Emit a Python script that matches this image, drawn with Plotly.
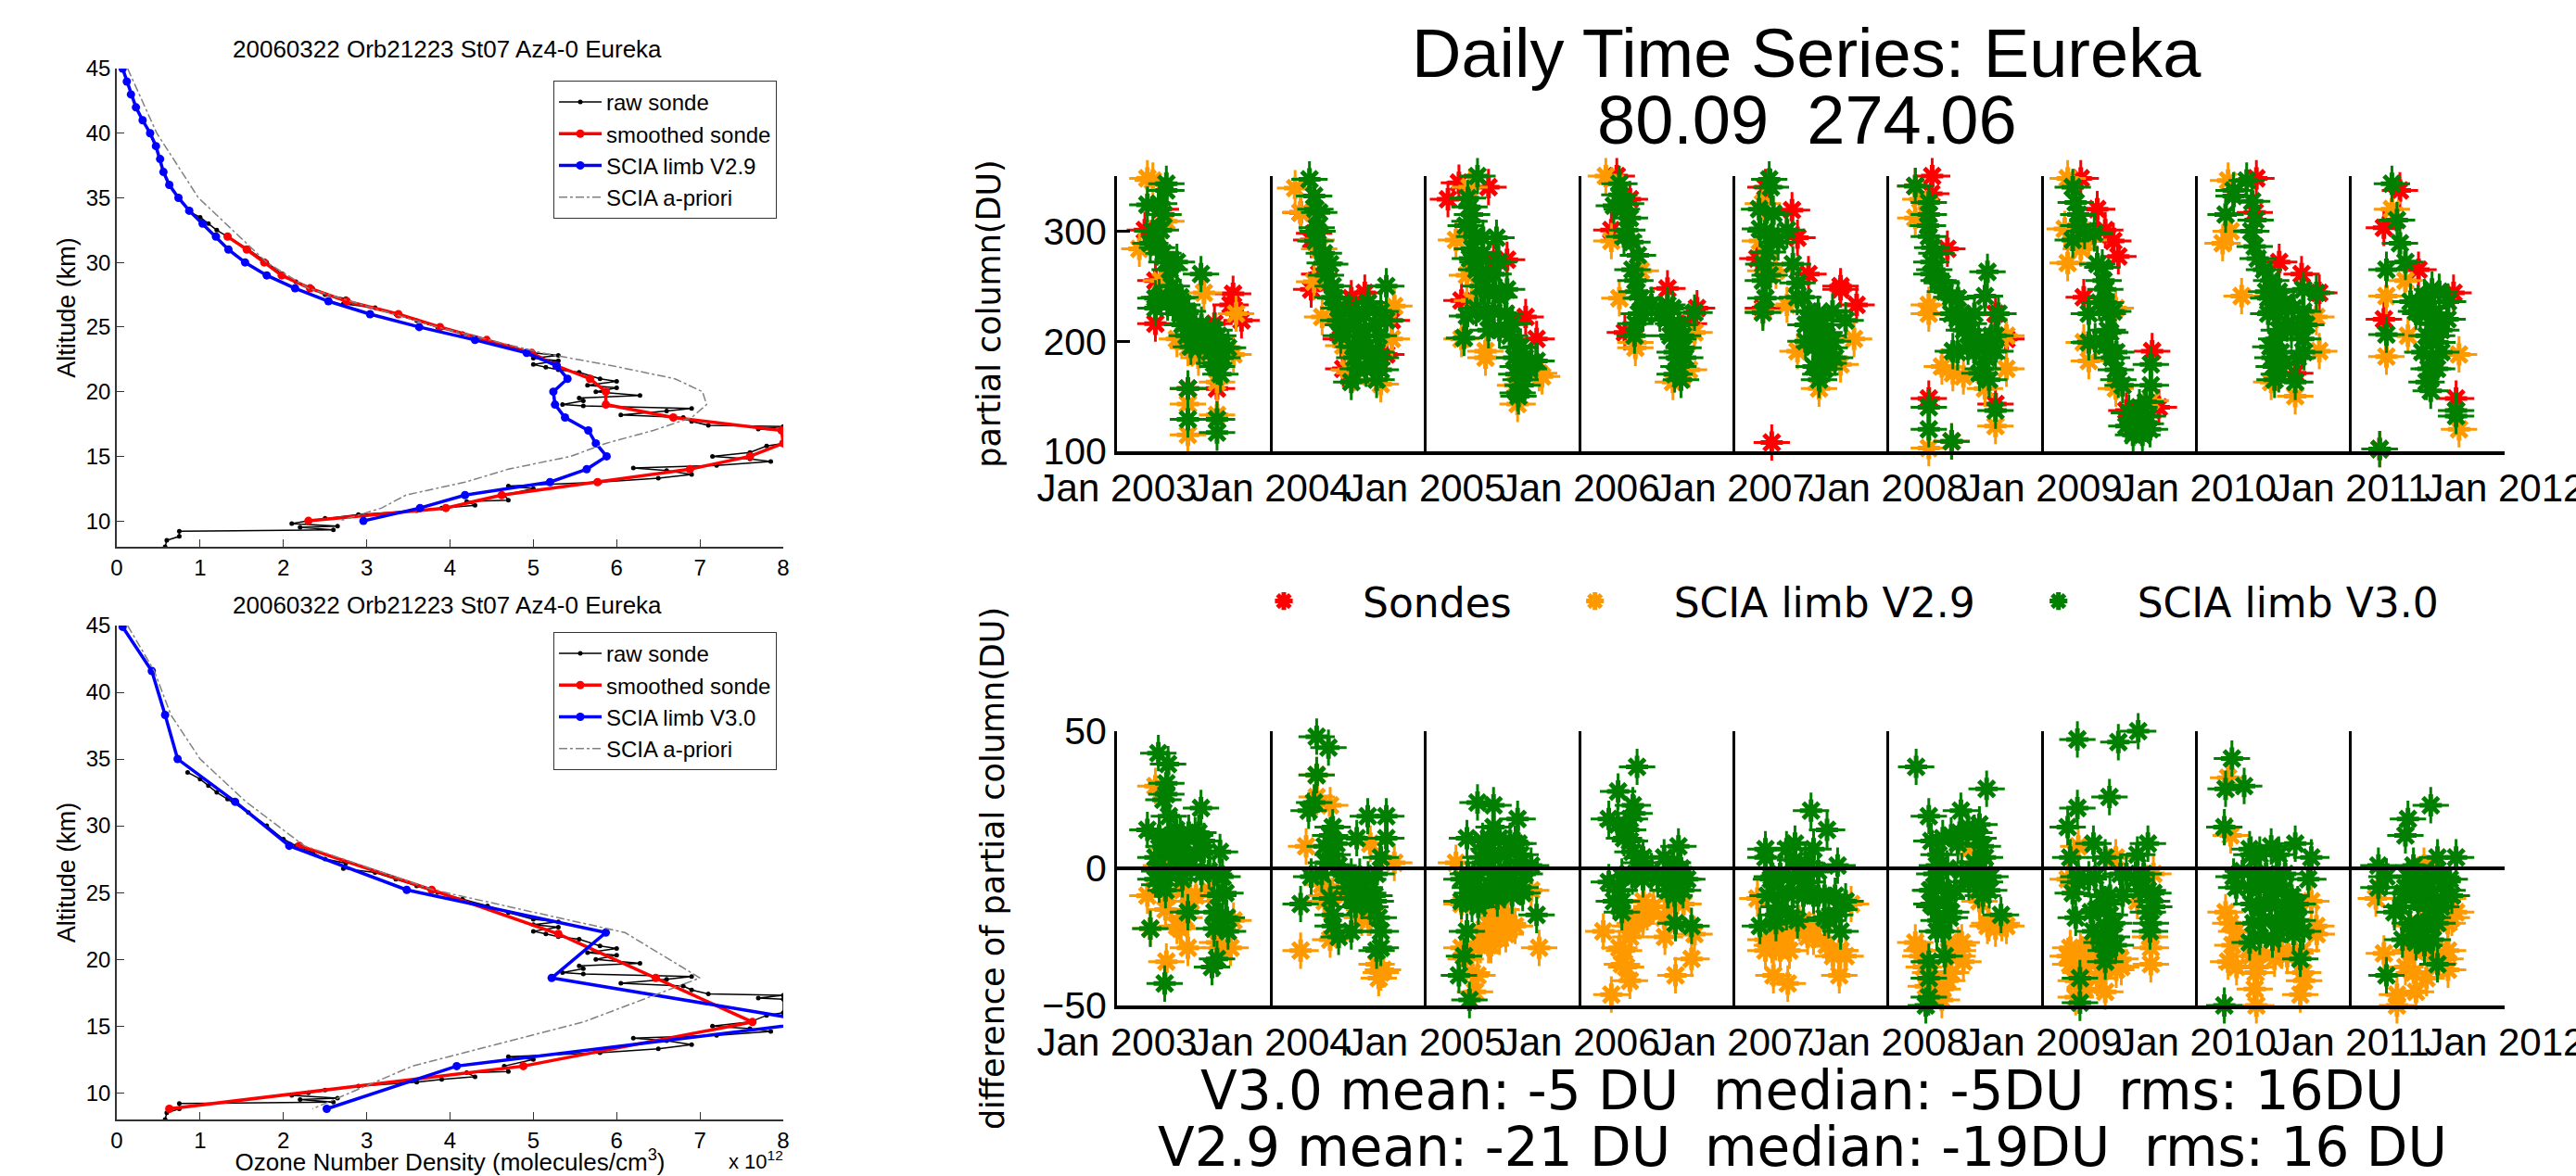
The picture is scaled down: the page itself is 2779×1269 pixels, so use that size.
import pandas as pd
import plotly.graph_objects as go

W, H = 2779, 1269

# ---------- Ozone profiles ----------
RAW_ALT = [34,33.5,33,32.5,32,31,30,29,28.5,28,27.5,27.2,26.8,26.5,26,25.5,25,24.5,24,23.5,23,22.8,22.6,22.4,22.1,21.9,21.7,21.5,21,20.8,20.5,20.3,20,19.7,19.5,19.3,19,18.9,18.7,18.5,18.2,18,17.7,17.4,17.3,17.1,17,16,15.8,15.3,15,14.8,14.6,14.3,14.1,13.9,13.6,13.3,13,12.7,12.5,12,11.6,11.5,11.2,11,10.8,10.5,10.2,10,9.8,9.6,9.5,9.3,9.2,8.8,8.5,8]
RAW_O3 = [.85,1.0,1.1,1.2,1.33,1.58,1.8,2.0,2.15,2.35,2.5,2.75,2.72,3.1,3.35,3.6,3.85,4.15,4.45,4.7,5.0,5.3,5.0,5.3,5.0,5.15,5.3,5.55,5.8,6.0,5.65,6.0,5.75,6.28,5.55,5.6,5.35,5.6,6.9,6.6,6.05,6.8,6.9,7.1,8,7.7,8,8,7.8,7.6,7.15,7.6,7.85,7.2,6.2,6.6,6.9,6.5,5.8,4.7,5,4.65,4.7,4.2,4.3,3.9,3.6,2.9,2.5,2.3,2.1,2.65,2.2,2.6,.75,.75,.6,.58]

SM29_ALT = [32,31,30,29,28,27,26,25,24,23,22,21,20,19,18,17,16,15,14,13,12,11,10]
SM29_O3 = [1.33,1.56,1.77,1.98,2.32,2.76,3.38,3.88,4.44,4.98,5.28,5.68,5.87,5.87,6.68,7.98,8.0,7.6,6.88,5.77,4.62,3.95,2.3]

V29_ALT = [45,44,43,42,41,40,39,38,37,36,35,34,33,32,31,30,29,28,27,26,25,24,23,22,21,20,19,18,17,16,15,14,13,12,11,10]
V29_O3 = [.07,.12,.17,.23,.31,.40,.47,.52,.56,.63,.74,.87,1.03,1.19,1.34,1.54,1.80,2.14,2.54,3.04,3.63,4.3,4.92,5.28,5.41,5.24,5.26,5.38,5.66,5.75,5.88,5.64,5.2,4.18,3.64,2.96]

AP29_ALT = [45,40,35,30,29,28,27,25,23,22,21,20,19,18,17,16,15,14,13,12,11,10]
AP29_O3 = [.13,.48,.98,1.8,2.05,2.3,2.8,3.85,5.1,5.95,6.7,7.03,7.08,6.9,6.44,5.87,5.45,4.7,4.18,3.47,3.18,2.67]

SM30_ALT = [28.5,25.2,21.9,18.6,15.3,12,8.8]
SM30_O3 = [2.19,3.78,5.3,6.47,7.63,4.88,.63]

V30_ALT = [44.9,41.6,38.3,35,31.8,28.5,25.2,22,18.6,15.3,12,8.8]
V30_O3 = [.07,.42,.58,.73,1.42,2.07,3.48,5.87,5.22,8.4,4.08,2.52]

AP30_ALT = [45,41.6,38.3,35,31.8,28.5,25.2,22,18.6,15.3,12,8.8]
AP30_O3 = [.13,.45,.65,1.0,1.55,2.25,3.8,6.1,7.0,5.6,3.55,2.35]

# ---------- Daily time series: (day of year, value) ----------
YEARS = [2003,2004,2005,2006,2007,2008,2009,2010,2011]

TOP_RED = {
2003:[(72,351),(66,301),(91,216),(275,243),(269,233),(168,157),(237,157),(231,216),(104,320),(91,255),(295,219)],
2004:[(70,317),(102,298),(114,261),(95,247),(190,239),(222,244),(286,219),(273,188),(165,202),(171,175),(95,292)],
2005:[(79,344),(149,340),(85,237),(263,202),(193,274),(237,222),(53,329),(161,272)],
2006:[(88,350),(75,301),(208,248),(278,230),(107,208),(119,329),(259,216)],
2007:[(253,250),(253,247),(138,319),(151,294),(56,275),(69,230),(291,233),(90,108),(177,261),(75,340)],
2008:[(105,350),(141,284),(97,148),(151,109),(255,143),(281,202),(255,225),(103,334),(65,341)],
2009:[(91,348),(130,320),(149,301),(168,291),(98,240),(260,191),(199,137),(276,140),(180,277)],
2010:[(142,348),(196,272),(249,261),(291,244),(234,171),(138,317)],
2011:[(117,337),(79,303),(79,220),(161,265),(250,148),(69,102),(244,244)],
}
TOP_ORANGE = {
2003:[(72,348),(110,315),(117,309),(53,284),(104,255),(142,202),(168,194),(206,244),(282,225),(193,185),(237,163),(168,143),(168,115),(237,133),(276,188),(85,346)],
2004:[(57,339),(70,317),(108,292),(114,284),(102,254),(121,222),(171,196),(184,174),(260,161),(292,232),(286,202),(197,171)],
2005:[(104,340),(72,292),(98,260),(85,202),(142,191),(142,185),(218,143),(276,168),(110,237),(212,160),(269,171)],
2006:[(62,350),(75,291),(132,199),(132,194),(221,163),(272,208),(259,174),(145,264),(94,239)],
2007:[(69,325),(62,291),(75,264),(69,227),(151,191),(253,179),(202,157),(285,202),(126,233),(100,264)],
2008:[(65,312),(97,233),(97,225),(154,171),(230,157),(255,123),(281,175),(281,205),(97,103),(179,168),(128,177),(77,329)],
2009:[(60,348),(53,302),(60,271),(110,182),(98,199),(91,284),(174,157),(257,146),(218,99),(257,99),(110,292),(174,230)],
2010:[(75,346),(62,289),(81,300),(107,241),(234,150),(177,163),(291,191),(284,222)],
2011:[(85,241),(85,186),(98,320),(257,120),(136,205),(257,188),(130,255)],
}
TOP_GREEN = {
2003:[(117,343),(72,324),(117,337),(104,301),(79,289),(117,272),(142,272),(199,261),(91,239),(91,230),(155,233),(168,216),(180,205),(231,210),(244,194),(263,194),(237,177),(168,157),(168,129),(237,129),(237,117),(142,239),(168,227),(193,202),(231,202),(150,225),(200,215),
      (100,325),(110,315),(85,300),(95,285),(110,280),(125,265),(100,240),(120,235),(135,230),(150,240),(155,215),(165,205),(175,195),(185,215),(195,195),(215,205),(220,190),(240,205),(250,185),(230,180),(245,170),(130,250)],
2004:[(91,347),(102,332),(114,317),(108,303),(105,291),(127,271),(140,270),(146,250),(152,239),(184,227),(222,225),(273,250),(260,227),(197,213),(222,205),(273,219),(197,185),(260,185),(260,174),(190,163),(222,194),(159,219),
      (105,320),(110,300),(125,280),(130,260),(145,240),(160,230),(170,215),(185,215),(200,225),(210,210),(230,235),(245,215),(255,205),(210,195),(225,190),(240,180),(205,175),(195,195),(225,175),(250,190),(165,205),(250,165)],
2005:[(123,350),(104,322),(104,309),(168,294),(110,284),(123,272),(161,261),(193,247),(149,244),(98,223),(161,227),(206,216),(218,194),(91,203),(149,210),(263,182),(218,177),(218,153),(225,165),(174,272),(136,294),(250,182),
      (100,330),(110,315),(95,305),(115,295),(105,275),(120,265),(135,280),(130,250),(145,260),(165,245),(175,240),(120,230),(140,225),(175,210),(190,225),(200,205),(210,185),(225,195),(215,170),(230,160),(220,150),(245,175),(235,185)],
2006:[(94,343),(81,323),(119,312),(113,301),(138,278),(132,255),(145,239),(132,216),(221,216),(272,226),(208,233),(234,202),(234,177),(246,194),(170,233),(94,333),
      (100,320),(110,325),(105,295),(125,290),(125,265),(135,245),(140,225),(150,225),(130,205),(190,225),(205,220),(220,230),(215,205),(225,190),(230,185),(245,205),(250,185),(225,170),(240,165),(235,215)],
2007:[(84,347),(88,340),(94,316),(62,302),(126,301),(81,281),(69,255),(75,239),(69,226),(151,253),(177,227),(234,227),(265,219),(215,208),(227,194),(189,177),(202,165),
      (60,320),(75,300),(90,295),(105,290),(70,270),(85,260),(140,270),(150,240),(165,240),(170,215),(185,215),(200,225),(210,215),(195,200),(220,205),(235,200),(240,185),(210,190),(225,180),(190,195),(170,200),(205,170),(215,175)],
2008:[(65,341),(97,326),(97,315),(97,295),(103,272),(128,253),(166,239),(236,263),(230,241),(192,216),(262,225),(255,205),(154,191),(255,191),(217,171),(97,140),(97,120),(151,109),(255,137),(103,261),
      (95,305),(105,285),(110,265),(115,280),(120,255),(135,245),(150,240),(150,225),(165,220),(175,225),(180,210),(195,210),(205,225),(215,200),(230,195),(205,190),(190,195),(225,175),(235,185),(245,205),(165,190),(240,165)],
2009:[(72,340),(79,326),(85,315),(123,298),(72,292),(142,267),(149,247),(110,225),(168,227),(161,208),(110,199),(174,174),(257,179),(257,160),(199,123),(250,132),(237,115),(149,196),
      (85,305),(100,300),(130,270),(145,255),(135,235),(155,225),(150,235),(155,210),(125,200),(175,190),(180,165),(165,185),(190,160),(205,135),(225,125),(230,140),(245,145),(255,120),(245,125),(215,115)],
2010:[(119,346),(88,332),(132,327),(69,315),(138,286),(177,255),(253,247),(189,227),(253,227),(189,202),(253,202),(183,177),(234,163),(215,216),(170,239),(88,337),(284,244),
      (130,300),(140,310),(145,275),(160,265),(165,245),(180,240),(195,245),(210,235),(230,230),(250,215),(170,225),(195,210),(225,210),(175,195),(200,190),(240,185),(180,185),(195,170),(210,180),(185,165),(260,215),(255,190)],
2011:[(98,343),(110,310),(117,289),(130,272),(85,265),(193,247),(142,236),(231,236),(85,206),(193,216),(206,199),(193,185),(180,163),(250,137),(250,132),(69,102),(155,227),
      (175,240),(210,245),(230,220),(165,225),(185,230),(200,225),(215,210),(180,205),(205,205),(215,190),(170,190),(185,175),(195,175),(205,175),(190,155),(160,235)],
}
DIFF_ORANGE = {
2003:[(91,30),(117,7),(72,-10),(187,-10),(142,-21),(168,-29),(117,-34),(269,-29),(237,-27),(79,-22),(218,-8),(276,-19),(104,1),
      (120,-10),(155,-8),(175,-12),(115,-15),(160,-18),(150,-22),(245,-29)],
2004:[(108,34),(140,23),(83,8),(235,9),(292,2),(127,-12),(235,-18),(140,-26),(70,-30),(260,-38),(146,-10),(108,26),
      (120,-6),(130,-10),(215,-18),(230,-18),(250,-35),(265,-37),(255,-40),(220,-15)],
2005:[(72,2),(149,-14),(187,-19),(149,-23),(212,-21),(123,-27),(269,-29),(85,-29),(123,-39),(117,-45),(250,-8),(85,-13),(149,-28),
      (150,-16),(165,-16),(180,-15),(195,-20),(165,-22),(175,-25),(155,-28),(190,-24),(140,-22),(130,-28),(95,-33),(110,-38)],
2006:[(151,-12),(119,-21),(56,-23),(94,-29),(100,-35),(119,-41),(75,-46),(202,-25),(265,-33),(227,-39),(272,-24),(151,-17),(246,-13),
      (150,-18),(160,-16),(120,-25),(130,-20),(140,-18),(105,-30),(110,-36),(175,-14),(200,-18),(215,-14)],
2007:[(56,-11),(164,-19),(100,-27),(132,-30),(94,-39),(128,-42),(253,-30),(250,-39),(189,-25),(278,-13),(75,-30),
      (110,-25),(125,-22),(140,-22),(155,-20),(90,-28),(110,-30),(175,-25),(190,-22),(220,-28),(235,-32),(250,-30),(265,-32),(75,-26)],
2008:[(65,-27),(166,-28),(77,-32),(141,-41),(90,-43),(128,-48),(236,-21),(281,-21),(217,-12),(179,-34),(192,7),(166,-30),
      (80,-30),(85,-36),(145,-30),(165,-32),(150,-38),(175,-27),(240,-20),(255,-22),(115,-42),(130,-44),(270,-20),(100,-38)],
2009:[(85,8),(174,4),(60,-4),(66,-29),(66,-35),(110,-34),(79,-41),(149,-45),(79,-47),(257,-29),(257,-35),(187,-36),(263,-2),(225,-12),
      (60,-32),(90,-30),(110,-28),(125,-32),(140,-36),(160,-30),(175,-37),(185,-33),(130,-40),(100,-44),(255,-25),(90,-38)],
2010:[(75,33),(81,12),(69,-16),(94,-23),(75,-34),(145,-36),(138,-44),(142,-50),(253,-38),(246,-46),(284,-21),(272,-12),(202,-30),
      (85,-28),(95,-36),(130,-32),(150,-31),(185,-33),(215,-32),(235,-31),(250,-30),(285,-24),(140,-38),(255,-41),(80,-20)],
2011:[(60,-11),(174,1),(231,-11),(250,-16),(79,-31),(130,-36),(231,-37),(110,-46),(155,-45),(110,-50),(142,-21),(231,-30),
      (165,-12),(160,-22),(150,-30),(190,-31),(210,-33),(225,-33),(140,-30),(230,-20),(240,-18),(180,-40),(150,-38)],
}
DIFF_GREEN = {
2003:[(98,42),(121,38),(117,31),(110,25),(199,22),(123,19),(72,14),(193,13),(142,9),(244,6),(91,4),(168,5),(218,-1),(91,-4),(155,-4),(257,-9),(168,-16),(231,-16),(79,-22),(263,-23),(237,-33),(225,-36),(113,-42),(206,10),(117,27),
      (100,12),(120,11),(140,14),(150,12),(170,13),(185,12),(110,8),(125,5),(160,5),(185,5),(205,6),(100,-1),(125,-2),(145,0),(175,1),(200,-2),(230,-2),(250,-3),(100,-6),(115,-8),(240,-10),(260,-18),(230,-22),(250,-19)],
2004:[(108,48),(136,44),(108,34),(102,24),(89,21),(146,15),(229,19),(273,19),(273,11),(203,11),(127,8),(146,5),(260,4),(95,-3),(222,-7),(197,-9),(70,-13),(248,-12),(146,-17),(146,-21),(190,-23),(260,-23),(260,-29),(171,-2),
      (140,12),(155,9),(130,2),(160,1),(120,-2),(170,-2),(190,-3),(210,-3),(230,-4),(250,-2),(180,-7),(205,-7),(230,-9),(190,-11),(215,-12),(245,-10),(200,-14),(235,-14),(140,-11),(160,-25),(255,-18),(250,-30)],
2005:[(123,24),(161,23),(218,18),(98,11),(149,7),(212,9),(136,2),(225,2),(85,-4),(161,-4),(225,-7),(110,-9),(187,-8),(85,-12),(263,-17),(98,-23),(91,-32),(79,-39),(104,-48),(161,15),(250,1),
      (135,10),(150,11),(175,11),(200,10),(220,9),(130,4),(160,5),(190,5),(225,5),(100,-2),(125,-2),(150,0),(175,-1),(200,-1),(235,-2),(105,-7),(130,-8),(155,-8),(185,-4),(205,-8),(230,-9),(110,-13),(140,-11),(170,-11),(205,-10),(125,-14)],
2006:[(136,37),(91,28),(126,23),(69,18),(119,18),(119,10),(234,8),(145,2),(221,2),(69,-5),(246,-4),(208,-8),(81,-12),(100,-16),(227,-20),(265,-21),(132,-2),
      (115,14),(130,20),(90,16),(105,11),(125,6),(150,4),(170,-1),(200,4),(220,-1),(240,0),(255,-4),(100,-3),(125,-3),(150,-4),(185,-4),(210,-8),(225,-10),(245,-8),(215,-5),(95,-8),(100,-12)],
2007:[(183,21),(221,14),(75,7),(145,9),(189,7),(246,1),(88,-4),(164,-5),(189,-10),(265,-12),(100,-17),(62,-21),(151,-19),(240,-17),(253,-23),(215,-10),
      (75,4),(125,7),(145,3),(170,2),(90,-3),(110,-2),(130,-3),(155,-2),(175,-5),(200,-1),(80,-10),(115,-9),(140,-9),(165,-10),(200,-10),(240,-10),(105,-14),(215,-18),(100,-20),(125,-16),(250,-15),(225,-19)],
2008:[(67,37),(234,29),(97,19),(173,21),(217,16),(103,10),(166,9),(230,4),(116,1),(243,-3),(103,-8),(192,-5),(103,-13),(147,-18),(268,-17),(116,-23),(97,-34),(135,-32),(97,-40),(97,-47),(90,-50),(211,-1),
      (120,5),(130,11),(150,12),(170,13),(190,15),(205,13),(215,11),(225,8),(110,-2),(140,0),(175,-1),(205,2),(100,-8),(130,-7),(160,-8),(230,-5),(240,-8),(110,-14),(140,-11),(215,-8),(120,-19),(150,-16),(130,-23),(225,-10)],
2009:[(83,47),(180,46),(227,50),(159,26),(83,22),(60,15),(121,9),(250,9),(66,4),(149,4),(225,5),(199,-2),(85,-5),(263,-9),(149,-13),(72,-9),(79,-18),(257,-20),(149,-21),(174,-28),(149,-34),(89,-40),(89,-49),
      (185,-2),(220,-4),(240,-2),(85,-3),(110,-4),(125,-3),(140,-10),(160,-10),(190,-10),(230,-8),(250,-8),(260,-12),(115,-16),(135,-15),(160,-17),(170,-20),(120,-23),(140,-27),(165,-25),(250,-16),(255,-23),(150,-30),(265,-14)],
2010:[(84,40),(69,29),(113,30),(66,15),(126,7),(177,8),(234,9),(272,4),(88,-3),(189,-3),(265,-4),(94,-7),(177,-12),(189,-19),(253,-23),(126,-27),(189,-8),(246,-33),(66,-50),(240,-13),
      (130,5),(150,5),(195,5),(110,-1),(140,-2),(165,-2),(210,-2),(125,-7),(150,-7),(175,-6),(205,-8),(225,-10),(130,-13),(150,-15),(175,-13),(210,-14),(235,-16),(135,-20),(160,-19),(215,-19),(240,-19),(150,-25),(195,-24),(230,-24),(180,-26)],
2011:[(190,23),(136,18),(130,12),(66,1),(149,1),(250,4),(206,4),(66,-7),(130,-7),(218,-5),(104,-16),(218,-12),(168,-23),(206,-20),(123,-26),(206,-35),(85,-39),(180,-8),
      (85,-3),(135,-3),(155,-3),(175,-5),(195,-3),(215,-3),(235,-4),(125,-9),(145,-8),(195,-10),(230,-8),(240,-10),(120,-14),(160,-12),(190,-15),(215,-14),(140,-20),(160,-22),(175,-20),(195,-18),(155,-27),(175,-28),(195,-26)],
}
YEAR_TICKS = [f"{y}-01-01" for y in YEARS + [2012]]
YEAR_LABELS = [f"Jan {y}" for y in YEARS + [2012]]

RED, ORANGE, GREEN = "#ff0000", "#ff9900", "#007f00"
FONT = "Liberation Sans"
WIDE = "DejaVu Sans"


def flat(series):
    dates, vals = [], []
    for y in YEARS:
        for d, v in series[y]:
            dates.append(pd.Timestamp(y, 1, 1) + pd.Timedelta(days=d))
            vals.append(v)
    return dates, vals


def dx(a, b):
    return [a / W, b / W]


def dy(top, bottom):
    return [1 - bottom / H, 1 - top / H]


fig = go.Figure()


def profile(xa, ya, leg, sm, v, ap, vname):
    common = dict(xaxis=xa, yaxis=ya, legend=leg)
    fig.add_trace(go.Scatter(x=RAW_O3, y=RAW_ALT, name="raw sonde", mode="lines+markers",
                             line=dict(color="black", width=1.5), marker=dict(size=5, color="black"), **common))
    fig.add_trace(go.Scatter(x=sm[1], y=sm[0], name="smoothed sonde", mode="lines+markers",
                             line=dict(color=RED, width=3.5), marker=dict(size=9, color=RED), **common))
    fig.add_trace(go.Scatter(x=v[1], y=v[0], name=vname, mode="lines+markers",
                             line=dict(color="#0000ff", width=3.5), marker=dict(size=9, color="#0000ff"), **common))
    fig.add_trace(go.Scatter(x=ap[1], y=ap[0], name="SCIA a-priori", mode="lines",
                             line=dict(color="#808080", width=1.5, dash="dashdot"), **common))


profile("x", "y", "legend", (SM29_ALT, SM29_O3), (V29_ALT, V29_O3), (AP29_ALT, AP29_O3), "SCIA limb V2.9")
profile("x2", "y2", "legend2", (SM30_ALT, SM30_O3), (V30_ALT, V30_O3), (AP30_ALT, AP30_O3), "SCIA limb V3.0")


def stars(series, color, name, xa, ya, show):
    xs, ys = flat(series)
    fig.add_trace(go.Scatter(x=xs, y=ys, name=name, mode="markers", xaxis=xa, yaxis=ya,
                             legend="legend3", showlegend=False, cliponaxis=False, hoverinfo="skip",
                             marker=dict(symbol="cross-thin-open", size=28, color=color,
                                         line=dict(color=color, width=3))))
    fig.add_trace(go.Scatter(x=xs, y=ys, name=name, mode="markers", xaxis=xa, yaxis=ya,
                             legend="legend3", showlegend=show, cliponaxis=False,
                             marker=dict(symbol="asterisk-open", size=20, color=color,
                                         line=dict(color=color, width=5))))


stars(TOP_RED, RED, "Sondes", "x3", "y3", True)
stars(TOP_ORANGE, ORANGE, "SCIA limb V2.9", "x3", "y3", True)
stars(TOP_GREEN, GREEN, "SCIA limb V3.0", "x3", "y3", True)
stars(DIFF_ORANGE, ORANGE, "SCIA limb V2.9", "x4", "y4", False)
stars(DIFF_GREEN, GREEN, "SCIA limb V3.0", "x4", "y4", False)

left_x = dict(range=[0, 8], tickvals=list(range(9)), ticks="inside", ticklen=8, tickcolor="#333",
              showline=True, linecolor="#333", linewidth=1.5, showgrid=False, zeroline=False,
              tickfont=dict(family=FONT, size=24, color="black"), domain=dx(126, 845))
left_y = dict(range=[8, 45], tickvals=list(range(10, 46, 5)), ticks="inside", ticklen=8, tickcolor="#333",
              showline=True, linecolor="#333", linewidth=1.5, showgrid=False, zeroline=False,
              tickfont=dict(family=FONT, size=24, color="black"),
              title=dict(text="Altitude (km)", font=dict(family=FONT, size=27, color="black"), standoff=3))
right_x = dict(type="date", range=["2003-01-01", "2012-01-01"], tickmode="array", tickvals=YEAR_TICKS,
               ticktext=YEAR_LABELS, tickangle=0, ticks="", showgrid=True, gridcolor="black", gridwidth=3,
               showline=True, linecolor="black", linewidth=4, zeroline=False, ticklabeloverflow="allow",
               tickfont=dict(family=FONT, size=42, color="black"), domain=dx(1205, 2702))
right_y = dict(ticks="inside", ticklen=14, tickwidth=3, tickcolor="black", showgrid=False,
               showline=True, linecolor="black", linewidth=3,
               tickfont=dict(family=FONT, size=41, color="black"))
ann = dict(xref="paper", yref="paper", showarrow=False, xanchor="center", yanchor="middle")

fig.update_layout(
    width=W, height=H, paper_bgcolor="white", plot_bgcolor="white",
    margin=dict(l=0, r=0, t=0, b=0, autoexpand=False), autosize=False,
    xaxis=dict(left_x, anchor="y"),
    yaxis=dict(left_y, anchor="x", domain=dy(74, 590)),
    xaxis2=dict(left_x, anchor="y2",
                title=dict(text="Ozone Number Density (molecules/cm<sup>3</sup>)",
                           font=dict(family=FONT, size=26, color="black"), standoff=10)),
    yaxis2=dict(left_y, anchor="x2", domain=dy(675, 1208)),
    xaxis3=dict(right_x, anchor="y3"),
    yaxis3=dict(right_y, anchor="x3", domain=dy(190, 487), range=[100, 350], tickvals=[100, 200, 300],
                zeroline=False,
                title=dict(text="partial column(DU)", font=dict(family=WIDE, size=35, color="black"), standoff=36)),
    xaxis4=dict(right_x, anchor="y4"),
    yaxis4=dict(right_y, anchor="x4", domain=dy(789, 1085), range=[-50, 50], tickvals=[-50, 0, 50],
                zeroline=True, zerolinecolor="black", zerolinewidth=4, zerolinelayer="above traces",
                title=dict(text="difference of partial column(DU)", font=dict(family=WIDE, size=35, color="black"), standoff=30)),
    legend=dict(x=838 / W, y=1 - 87 / H, xanchor="right", yanchor="top", bgcolor="white",
                bordercolor="#333", borderwidth=1, itemwidth=46, font=dict(family=FONT, size=24, color="black")),
    legend2=dict(x=838 / W, y=1 - 682 / H, xanchor="right", yanchor="top", bgcolor="white",
                 bordercolor="#333", borderwidth=1, itemwidth=46, font=dict(family=FONT, size=24, color="black")),
    legend3=dict(x=1968 / W, y=1 - 649 / H, xanchor="center", yanchor="middle", orientation="h",
                 itemwidth=160, font=dict(family=WIDE, size=44, color="black")),
    showlegend=True,
    annotations=[
        dict(ann, text="20060322 Orb21223 St07 Az4-0 Eureka", x=482 / W, y=1 - 53 / H,
             font=dict(family=FONT, size=26, color="black")),
        dict(ann, text="20060322 Orb21223 St07 Az4-0 Eureka", x=482 / W, y=1 - 653 / H,
             font=dict(family=FONT, size=26, color="black")),
        dict(ann, text="x 10<sup>12</sup>", x=815 / W, y=1 - 1252 / H,
             font=dict(family=FONT, size=22, color="black")),
        dict(ann, text="Daily Time Series: Eureka", x=1949 / W, y=1 - 58 / H,
             font=dict(family=FONT, size=74, color="black")),
        dict(ann, text="80.09\u00a0\u00a0274.06", x=1949 / W, y=1 - 129 / H,
             font=dict(family=FONT, size=74, color="black")),
        dict(ann, text="V3.0 mean: -5 DU\u00a0\u00a0median: -5DU\u00a0\u00a0rms: 16DU", x=1944 / W, y=1 - 1177 / H,
             font=dict(family=WIDE, size=58, color="black")),
        dict(ann, text="V2.9 mean: -21 DU\u00a0\u00a0median: -19DU\u00a0\u00a0rms: 16 DU", x=1944 / W, y=1 - 1238 / H,
             font=dict(family=WIDE, size=58, color="black")),
    ],
)

fig.write_html("out.html", post_script="document.body.style.margin='0';",
               config={"displayModeBar": False})
